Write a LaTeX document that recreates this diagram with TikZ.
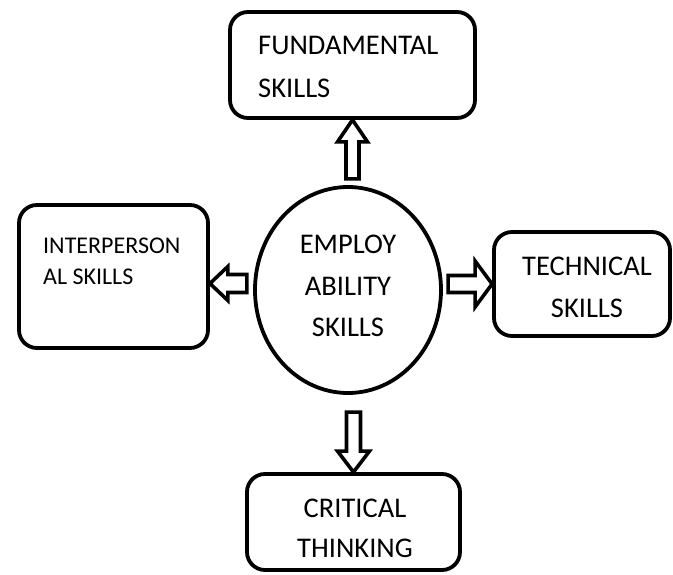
\documentclass[tikz,border=0pt]{standalone}
\usepackage{fontspec}
\setmainfont{Carlito}
\usetikzlibrary{shapes.geometric}

\tikzset{
  skillbox/.style={draw, line width=3.8pt, rounded corners=18pt, inner sep=0pt},
  hub/.style={draw, ellipse, line width=3.8pt, inner sep=0pt},
  lbl/.style={inner sep=0pt, font=\fontsize{28.5}{42}\selectfont},
  blk/.style={draw, line width=3.6pt, fill=white, line join=miter},
  % hollow block arrow pointing along +x, tip at the origin:
  % #1 length, #2 head length, #3 head half-width, #4 shaft half-width
  pics/blockarrow/.style n args={4}{code={
    \draw[blk] (0,0) -- (-#2,-#3) -- (-#2,-#4) -- (-#1,-#4)
               -- (-#1,#4) -- (-#2,#4) -- (-#2,#3) -- cycle;
  }}
}

\begin{document}
\begin{tikzpicture}[x=1pt,y=-1pt]
\useasboundingbox (0,0) rectangle (673,575);

% boxes and the central ellipse
\node[skillbox, minimum width=245pt, minimum height=106pt] (fund)  at (352.5,65) {};
\node[skillbox, minimum width=189pt, minimum height=143pt] (inter) at (113.5,276.5) {};
\node[skillbox, minimum width=176pt, minimum height=104pt] (tech)  at (582,284) {};
\node[skillbox, minimum width=213pt, minimum height=96pt]  (crit)  at (353.5,522) {};
\node[hub, minimum width=186pt, minimum height=206pt]      (emp)   at (348,290) {};

% labels (base anchor sits on the last line)
\node[lbl, anchor=base west, align=left, font=\fontsize{28.5}{43}\selectfont] (fundtxt) at (258,98) {FUNDAMENTAL\\SKILLS};
\node[lbl, anchor=base west, align=left, font=\fontsize{24}{32}\selectfont] (intertxt) at (43,285) {INTERPERSON\\AL SKILLS};
\node[lbl, anchor=base, align=center] (techtxt) at (587,317) {TECHNICAL\\SKILLS};
\node[lbl, anchor=base, align=center, font=\fontsize{28.5}{40}\selectfont] (crittxt) at (355,557) {CRITICAL\\THINKING};
\node[lbl, anchor=base, align=center] (emptxt) at (348,337) {EMPLOY\\ABILITY\\SKILLS};

% block arrows from the ellipse to each box
\pic[rotate=90]  at (fund.south) {blockarrow={59}{22}{15}{6.5}};
\pic[rotate=180] at ([yshift=-7pt]inter.east) {blockarrow={37}{18}{17}{9}};
\pic             at (tech.west) {blockarrow={44}{17}{23}{8.5}};
\pic[rotate=-90] at (crit.north) {blockarrow={60}{21}{16}{7}};
\end{tikzpicture}
\end{document}
